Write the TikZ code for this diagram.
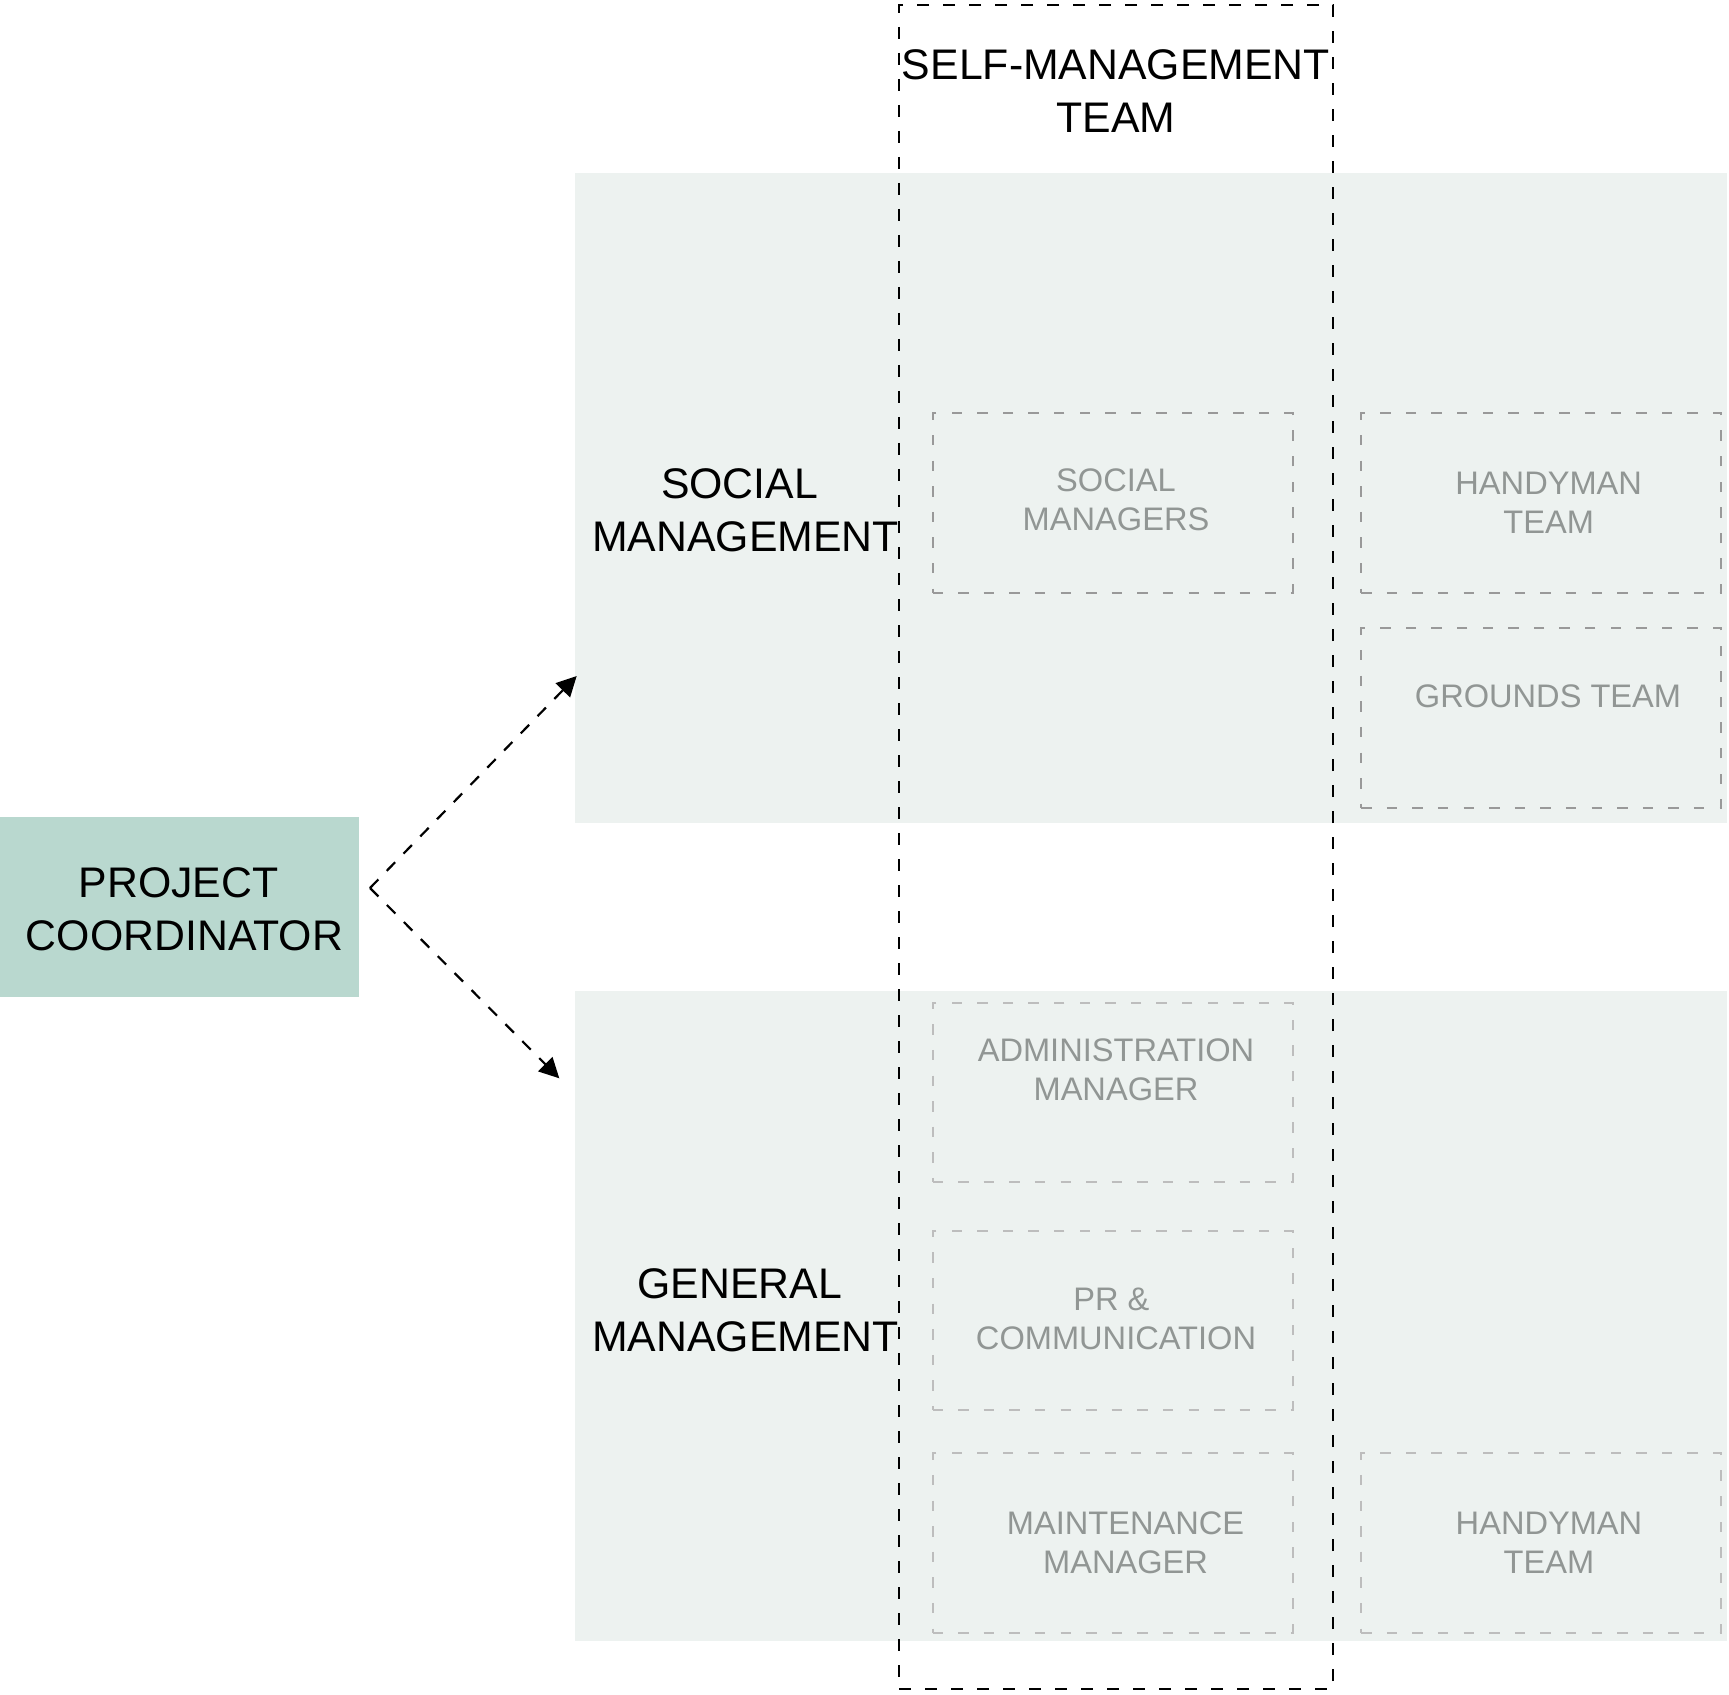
\documentclass[tikz,border=0pt]{standalone}
\usepackage{fontspec}
\setmainfont{Liberation Sans}
\usetikzlibrary{arrows.meta}
\definecolor{pcgreen}{HTML}{B9D8CF}
\definecolor{panelbg}{HTML}{EDF2F0}
\definecolor{boxgray}{HTML}{999999}
\definecolor{boxlight}{HTML}{BDBDBD}
\definecolor{labelgray}{HTML}{919694}
\newcommand{\trail}{\hspace*{0.278em}}

\begin{document}
\begin{tikzpicture}[x=0.5pt,y=-0.5pt,
    bigtext/.style={font=\fontsize{21.4}{26.7}\selectfont,align=center,inner sep=0pt},
    smalltext/.style={font=\fontsize{16.3}{19.7}\selectfont,align=center,inner sep=0pt,text=labelgray},
    panel/.style={fill=panelbg,draw=none,minimum width=576.15pt,minimum height=325.1pt,inner sep=0pt},
    unitbox/.style={draw=#1,line width=1pt,dash pattern=on 5.2pt off 7.6pt,minimum width=180.1pt,minimum height=89.7pt,inner sep=0pt},
    flow/.style={line width=1.1pt,dash pattern=on 6pt off 6pt,-{Triangle[length=10pt,width=10pt]}}]
  \useasboundingbox (0,0) rectangle (1729,1695);

  % the two management areas
  \node[panel] (soc) at (1150.85,498.15) {};
  \node[panel] (gen) at (1150.85,1315.7) {};
  \node[bigtext] (soclabel) at (745.5,510) {SOCIAL\trail\\MANAGEMENT};
  \node[bigtext] (genlabel) at (745.5,1310.5) {GENERAL\trail\\MANAGEMENT};

  % coordinator
  \node[fill=pcgreen,minimum width=179.5pt,minimum height=89.85pt,inner sep=0pt] (pc) at (179.5,906.85) {};
  \node[bigtext] (pclabel) at (184.5,909) {PROJECT\trail\\COORDINATOR};

  % units, social side
  \node[unitbox=boxgray] (sm) at (1112.6,503) {};
  \node[unitbox=boxgray] (hta) at (1541.25,503) {};
  \node[unitbox=boxgray] (gt) at (1541.25,718) {};
  \node[smalltext] (smlabel) at (1116,500) {SOCIAL\\MANAGERS};
  \node[smalltext] (htalabel) at (1548.7,502.7) {HANDYMAN\\TEAM};
  \node[smalltext] (gtlabel) at (1548,696.7) {GROUNDS TEAM};

  % units, general side
  \node[unitbox=boxlight] (am) at (1112.6,1092.2) {};
  \node[unitbox=boxlight] (pr) at (1112.6,1320.35) {};
  \node[unitbox=boxlight] (mm) at (1112.6,1542.8) {};
  \node[unitbox=boxlight] (htb) at (1541.25,1542.8) {};
  \node[smalltext] (amlabel) at (1116,1070) {ADMINISTRATION\\MANAGER};
  \node[smalltext] (prlabel) at (1116,1318.7) {PR \&\trail\\COMMUNICATION};
  \node[smalltext] (mmlabel) at (1125.6,1542.5) {MAINTENANCE\\MANAGER};
  \node[smalltext] (htblabel) at (1549,1542.5) {HANDYMAN\\TEAM};

  % self-management team
  \node[draw,line width=1.1pt,dash pattern=on 6pt off 7pt,minimum width=217pt,minimum height=842pt,inner sep=0pt] (self) at (1116,847) {};
  \node[bigtext] (selflabel) at (1116,91) {SELF-MANAGEMENT\\TEAM};

  % arrows
  \coordinate (fork) at (370,888);
  \coordinate (socin) at (576.7,676);
  \coordinate (genin) at (559.3,1078.3);
  \draw[flow] (fork) -- (socin);
  \draw[flow] (fork) -- (genin);
\end{tikzpicture}
\end{document}
